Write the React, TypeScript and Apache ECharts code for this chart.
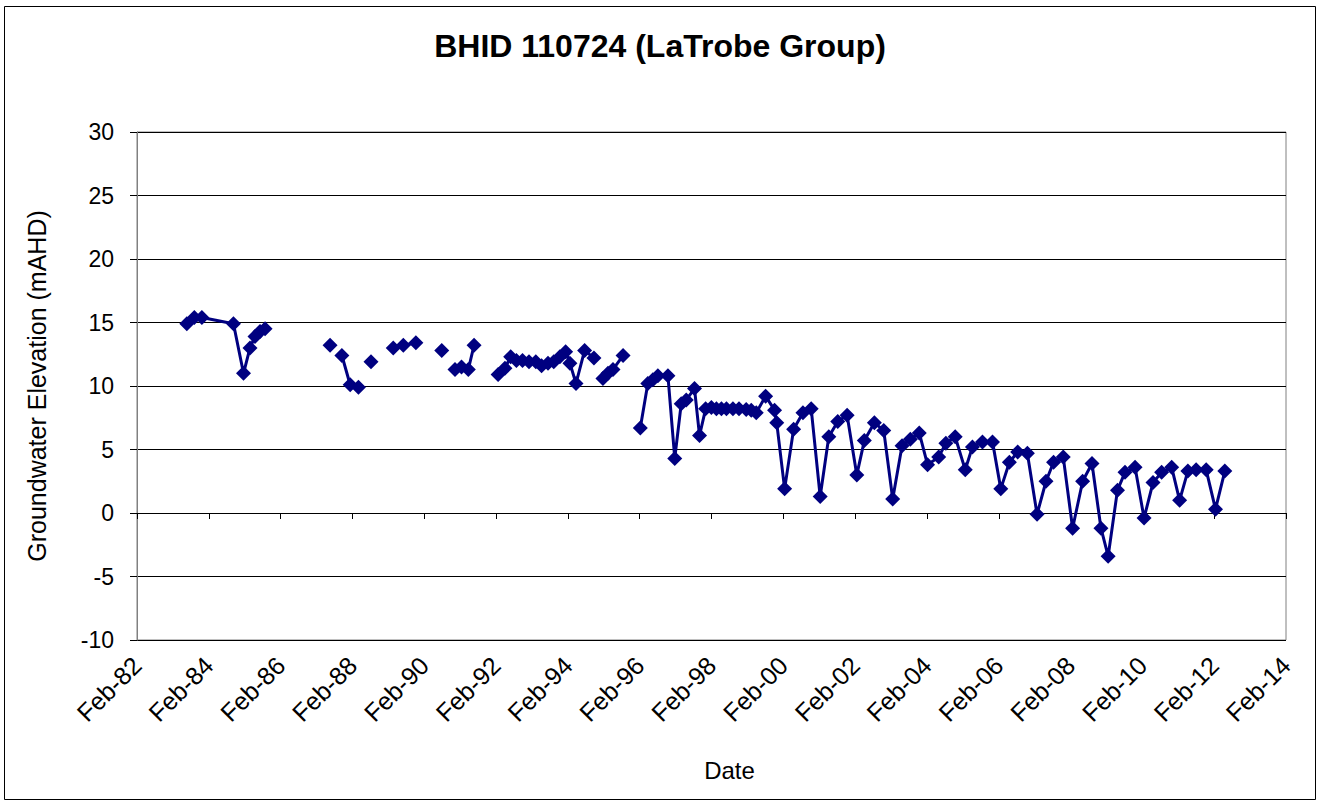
import React, { useEffect, useRef } from "react";
import * as echarts from "echarts";

// Decimal-year dates of each reading; null marks a break in the record
const dates: (number | null)[] = [
  1983.47, 1983.68, 1983.89, 1984.77, 1985.05, 1985.23, 1985.37, 1985.51, 1985.65, null,
  1987.46, null,
  1987.79, 1988.02, 1988.25, null,
  1988.60, null,
  1989.22, 1989.50, 1989.85, null,
  1990.57, null,
  1990.94, 1991.12, 1991.31, 1991.47, null,
  1992.14, 1992.33, 1992.49, 1992.65, 1992.82, 1993.00, 1993.19, 1993.35, 1993.53, 1993.69,
  1993.86, 1994.02, 1994.14, 1994.31, 1994.55, 1994.81, null,
  1995.06, 1995.20, 1995.34, 1995.62, null,
  1996.10, 1996.31, 1996.45, 1996.59, 1996.87, 1997.06, 1997.24, 1997.38, 1997.61, 1997.75,
  1997.92, 1998.08, 1998.22, 1998.36, 1998.50, 1998.68, 1998.85, 1999.05, 1999.19, 1999.33,
  1999.59, 1999.84, 1999.90, 2000.12, 2000.37, 2000.63, 2000.86, 2001.11, 2001.35, 2001.60,
  2001.86, 2002.13, 2002.34, 2002.62, 2002.88, 2003.13, 2003.39, 2003.62, 2003.87, 2004.10,
  2004.41, 2004.61, 2004.87, 2005.15, 2005.35, 2005.63, 2005.91, 2006.14, 2006.38, 2006.61,
  2006.88, 2007.15, 2007.40, 2007.61, 2007.88, 2008.14, 2008.42, 2008.68, 2008.93, 2009.13,
  2009.39, 2009.60, 2009.88, 2010.13, 2010.38, 2010.62, 2010.90, 2011.12, 2011.35, 2011.58,
  2011.86, 2012.12, 2012.38,
];

// Groundwater elevation (mAHD)
const elevations: (number | null)[] = [
  14.9, 15.4, 15.4, 14.9, 11.0, 13.0, 13.9, 14.3, 14.5, null,
  13.2, null,
  12.4, 10.1, 9.9, null,
  11.9, null,
  13.0, 13.2, 13.4, null,
  12.8, null,
  11.3, 11.5, 11.3, 13.2, null,
  10.9, 11.4, 12.3, 12.0, 12.0, 11.9, 11.9, 11.6, 11.8, 11.9,
  12.3, 12.7, 11.8, 10.2, 12.8, 12.2, null,
  10.6, 11.0, 11.3, 12.4, null,
  6.7, 10.2, 10.5, 10.8, 10.8, 4.3, 8.6, 8.9, 9.8, 6.1,
  8.2, 8.3, 8.2, 8.2, 8.2, 8.2, 8.2, 8.15, 8.1, 7.9,
  9.2, 8.1, 7.1, 1.9, 6.6, 7.9, 8.2, 1.3, 6.0, 7.2,
  7.7, 3.0, 5.7, 7.1, 6.5, 1.1, 5.3, 5.8, 6.3, 3.8,
  4.4, 5.5, 6.0, 3.4, 5.2, 5.6, 5.6, 1.9, 4.0, 4.8,
  4.7, -0.1, 2.5, 4.0, 4.4, -1.2, 2.5, 3.9, -1.2, -3.4,
  1.8, 3.2, 3.6, -0.4, 2.4, 3.2, 3.6, 1.0, 3.3, 3.4,
  3.4, 0.3, 3.3,
];

// Axis start (Feb-1982) and tick labels
const xStartYear = 1982 + 1 / 12;
const xTickLabels = [
  "Feb-82", "Feb-84", "Feb-86", "Feb-88", "Feb-90", "Feb-92", "Feb-94", "Feb-96",
  "Feb-98", "Feb-00", "Feb-02", "Feb-04", "Feb-06", "Feb-08", "Feb-10", "Feb-12", "Feb-14",
];

const FONT = "'Liberation Sans', Arial, sans-serif";

export default function App() {
  const ref = useRef<HTMLDivElement>(null);

  useEffect(() => {
    if (!ref.current) return;
    const chart = echarts.init(ref.current, null, { renderer: "svg" });

    const data = dates.map((d, i) => {
      const v = elevations[i];
      if (d === null || v === null) return ["-", "-"];
      return [d - xStartYear, v];
    });

    chart.setOption({
      animation: false,
      backgroundColor: "#ffffff",
      title: {
        text: "BHID 110724 (LaTrobe Group)",
        left: "center",
        top: 25,
        textStyle: { fontFamily: FONT, fontSize: 32, fontWeight: "bold", color: "#000" },
      },
      graphic: [
        {
          type: "rect",
          shape: { x: 4.5, y: 6.5, width: 1311, height: 793 },
          style: { fill: "none", stroke: "#000", lineWidth: 1 },
          silent: true,
        },
      ],
      grid: {
        left: 137,
        right: 34,
        top: 132,
        bottom: 164,
        show: true,
        borderColor: "#808080",
        borderWidth: 1,
      },
      xAxis: {
        type: "value",
        min: 0,
        max: 32,
        interval: 2,
        name: "Date",
        nameLocation: "middle",
        nameGap: 118,
        nameTextStyle: { fontFamily: FONT, fontSize: 24, color: "#000", padding: [0, 0, 0, 36] },
        axisLine: { show: true, lineStyle: { color: "#000", width: 1 } },
        axisTick: { show: true, length: 6, inside: false, lineStyle: { color: "#000" } },
        axisLabel: {
          rotate: 45,
          fontFamily: FONT,
          fontSize: 25,
          color: "#000",
          margin: 21,
          formatter: (v: number) => xTickLabels[Math.round(v / 2)] ?? "",
        },
        splitLine: { show: false },
      },
      yAxis: {
        type: "value",
        min: -10,
        max: 30,
        interval: 5,
        name: "Groundwater Elevation (mAHD)",
        nameLocation: "middle",
        nameGap: 88,
        nameTextStyle: { fontFamily: FONT, fontSize: 25, color: "#000" },
        axisLine: { show: true, lineStyle: { color: "#808080", width: 1 } },
        axisTick: { show: true, length: 7, inside: false, lineStyle: { color: "#000" } },
        axisLabel: { fontFamily: FONT, fontSize: 23, color: "#000", margin: 23 },
        splitLine: { show: true, lineStyle: { color: "#000", width: 1 } },
      },
      series: [
        {
          type: "line",
          data,
          connectNulls: false,
          symbol: "diamond",
          symbolSize: 15,
          itemStyle: { color: "#000080" },
          lineStyle: { color: "#000080", width: 3 },
        },
      ],
    });

    return () => chart.dispose();
  }, []);

  return <div ref={ref} style={{ width: 1320, height: 804, position: "absolute", left: 0, top: 0 }} />;
}
